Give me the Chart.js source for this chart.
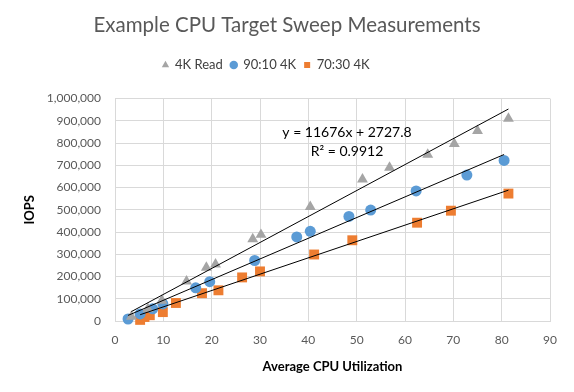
<!DOCTYPE html>
<html>
<head>
<meta charset="utf-8">
<script src="https://cdn.jsdelivr.net/npm/chart.js@4/dist/chart.umd.min.js"></script>
<style>
  html, body { margin: 0; padding: 0; background: #fff; }
  #wrap { width: 574px; height: 392px; }
</style>
</head>
<body>
<div id="wrap"><canvas id="chart" width="574" height="392"></canvas></div>
<script>
// 데이터
const seriesNames = ['4K Read', '90:10 4K', '70:30 4K'];

const readX = [3.4, 6.8, 9.7, 14.8, 18.9, 20.8, 28.5, 30.2, 40.4, 51.2, 56.8, 64.7, 70.2, 75.0, 81.4];
const readY = [20000, 55000, 92000, 178000, 240000, 255000, 368000, 388000, 513000, 637000, 690000, 748000, 797000, 855000, 910000];

const mixX = [2.7, 5.2, 7.8, 9.9, 16.7, 19.6, 28.9, 37.6, 40.4, 48.4, 52.9, 62.3, 72.8, 80.5];
const mixY = [9000, 32000, 55000, 77000, 149000, 177000, 272000, 378000, 403000, 470000, 499000, 585000, 656000, 722000];

const wrX = [5.2, 6.1, 7.2, 9.9, 12.6, 18.0, 21.4, 26.3, 30.0, 41.2, 49.1, 62.5, 69.5, 81.4];
const wrY = [5000, 18000, 26000, 40000, 81000, 125000, 138000, 196000, 223000, 299000, 363000, 442000, 496000, 573000];

// 추세선 (기울기 / 절편)
const trendSlope = [11676, 9300, 7350];
const trendIntercept = [2727.8, 0, -10000];

const xTicks = [0, 10, 20, 30, 40, 50, 60, 70, 80, 90];
const yTicks = [0, 100000, 200000, 300000, 400000, 500000, 600000, 700000, 800000, 900000, 1000000];

const eqLines = ['y = 11676x + 2727.8', 'R² = 0.9912'];

const FONT = 'Lato, "Open Sans", sans-serif';

function toPoints(xs, ys) {
  return xs.map((x, i) => ({ x, y: ys[i] }));
}

function trendPoints(xs, i) {
  const lo = Math.min(...xs), hi = Math.max(...xs);
  return [
    { x: lo, y: trendSlope[i] * lo + trendIntercept[i] },
    { x: hi, y: trendSlope[i] * hi + trendIntercept[i] }
  ];
}

function trendSet(xs, i) {
  return {
    type: 'line',
    label: 'trend' + i,
    data: trendPoints(xs, i),
    borderColor: '#000',
    borderWidth: 1,
    pointRadius: 0,
    fill: false,
    order: 0,
    clip: false
  };
}

// 범례 아래 여백
const legendGap = {
  id: 'legendGap',
  beforeInit(chart) {
    const fit = chart.legend.fit;
    chart.legend.fit = function () {
      fit.bind(chart.legend)();
      this.height += 17;
    };
  }
};

// 제목/범례 가로 위치 보정
const boxShift = {
  id: 'boxShift',
  beforeDraw(chart) {
    const t = chart.titleBlock, l = chart.legend;
    t.left += 12; t.right += 12;
    l.left -= 9; l.right -= 9;
  }
};

// 추세선 수식 라벨
const eqLabel = {
  id: 'eqLabel',
  afterDatasetsDraw(chart) {
    const { ctx, scales: { x, y } } = chart;
    ctx.save();
    ctx.font = '14px ' + FONT;
    ctx.fillStyle = '#000';
    ctx.textAlign = 'center';
    ctx.textBaseline = 'middle';
    ctx.fillText(eqLines[0], x.getPixelForValue(48), y.getPixelForValue(848000));
    ctx.fillText(eqLines[1], x.getPixelForValue(48), y.getPixelForValue(763000));
    ctx.restore();
  }
};

const canvas = document.getElementById('chart');
new Chart(canvas, {
  type: 'scatter',
  data: {
    datasets: [
      {
        label: seriesNames[0],
        data: toPoints(readX, readY),
        pointStyle: 'triangle',
        pointRadius: 6.3,
        backgroundColor: '#a5a5a5',
        borderColor: '#a5a5a5',
        borderWidth: 0,
        order: 1,
        clip: false
      },
      {
        label: seriesNames[1],
        data: toPoints(mixX, mixY),
        pointStyle: 'circle',
        pointRadius: 5.5,
        backgroundColor: '#5b9bd5',
        borderColor: '#5b9bd5',
        borderWidth: 0,
        order: 1,
        clip: false
      },
      {
        label: seriesNames[2],
        data: toPoints(wrX, wrY),
        pointStyle: 'rect',
        pointRadius: 7,
        backgroundColor: '#ed7d31',
        borderColor: '#ed7d31',
        borderWidth: 0,
        order: 1,
        clip: false
      },
      trendSet(readX, 0),
      trendSet(mixX, 1),
      trendSet(wrX, 2)
    ]
  },
  options: {
    responsive: false,
    animation: false,
    layout: { padding: { left: 0, right: 24, top: 0, bottom: 0 } },
    plugins: {
      title: {
        display: true,
        text: 'Example CPU Target Sweep Measurements',
        color: '#595959',
        font: { family: FONT, size: 20.5, weight: 'normal' },
        padding: { top: 13, bottom: 13 }
      },
      legend: {
        position: 'top',
        labels: {
          usePointStyle: true,
          boxWidth: 6,
          boxHeight: 6,
          padding: 8,
          color: '#404040',
          font: { family: FONT, size: 13 },
          filter: item => seriesNames.includes(item.text)
        }
      },
      tooltip: { enabled: false }
    },
    scales: {
      x: {
        type: 'linear',
        min: 0,
        max: 90,
        afterBuildTicks: s => { s.ticks = xTicks.map(v => ({ value: v })); },
        afterFit: s => { s.height = 71; },
        grid: { color: '#d9d9d9', drawTicks: false },
        border: { color: '#d9d9d9' },
        ticks: { color: '#595959', font: { family: FONT, size: 12 }, padding: 12 },
        title: {
          display: true,
          text: 'Average CPU Utilization',
          color: '#000',
          font: { family: FONT, size: 13, weight: 'bold' },
          padding: { top: 4, bottom: 17 }
        }
      },
      y: {
        type: 'linear',
        min: 0,
        max: 1000000,
        afterBuildTicks: s => { s.ticks = yTicks.map(v => ({ value: v })); },
        afterFit: s => { s.width = 115; },
        grid: { color: '#d9d9d9', drawTicks: false },
        border: { color: '#d9d9d9' },
        ticks: {
          color: '#595959',
          font: { family: FONT, size: 12 },
          padding: 14,
          callback: v => v.toLocaleString('en-US')
        },
        title: {
          display: true,
          text: 'IOPS',
          color: '#000',
          font: { family: FONT, size: 13, weight: 'bold' },
          padding: { top: 22, bottom: 0 }
        }
      }
    }
  },
  plugins: [legendGap, boxShift, eqLabel]
});
</script>
</body>
</html>
